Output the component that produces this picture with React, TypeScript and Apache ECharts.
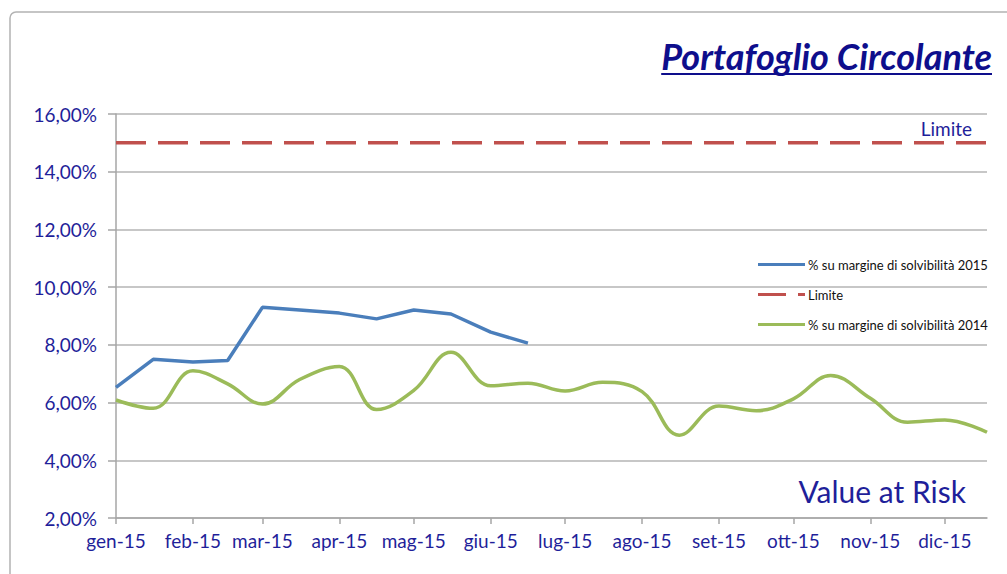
import React, { useEffect, useRef } from "react";
import * as echarts from "echarts";

const dates = [
  "2015-01-01", "2015-01-16", "2015-02-01", "2015-02-15", "2015-03-01", "2015-03-16",
  "2015-04-01", "2015-04-16", "2015-05-01", "2015-05-16", "2015-06-01", "2015-06-16",
  "2015-07-01", "2015-07-16", "2015-08-01", "2015-08-16", "2015-09-01", "2015-09-16",
  "2015-10-01", "2015-10-16", "2015-11-01", "2015-11-16", "2015-12-01", "2015-12-18",
];
const series2015 = [6.53, 7.5, 7.41, 7.46, 9.3, 9.21, 9.1, 8.9, 9.21, 9.07, 8.44, 8.06];
const series2014 = [
  6.09, 5.8, 7.1, 6.65, 5.95, 6.8, 7.25, 5.76, 6.42, 7.74, 6.58, 6.67,
  6.4, 6.7, 6.38, 4.87, 5.88, 5.72, 6.13, 6.94, 6.15, 5.32, 5.4, 4.97,
];
const limitValue = 15;
const monthStarts = [
  "2015-01-01", "2015-02-01", "2015-03-01", "2015-04-01", "2015-05-01", "2015-06-01",
  "2015-07-01", "2015-08-01", "2015-09-01", "2015-10-01", "2015-11-01", "2015-12-01",
];
const monthLabels = [
  "gen-15", "feb-15", "mar-15", "apr-15", "mag-15", "giu-15",
  "lug-15", "ago-15", "set-15", "ott-15", "nov-15", "dic-15",
];
const seriesNames = [
  "% su margine di solvibilità 2015",
  "Limite",
  "% su margine di solvibilità 2014",
];
const titleText = "Portafoglio Circolante";
const subtitleText = "Value at Risk";

const toTs = (s: string) => {
  const [y, m, d] = s.split("-").map(Number);
  return Date.UTC(y, m - 1, d);
};

const FONT = "Lato, 'Liberation Sans', sans-serif";
const LABEL_COLOR = "#1F1F9A";
const TITLE_COLOR = "#0E0E8C";
const BLUE = "#4A7EBB";
const RED = "#C0504D";
const GREEN = "#9BBB59";

const ICON_SOLID = "path://M0,0h47v3h-47z";
const ICON_DASHED = "path://M0,0h28v3h-28zM40,0h7v3h-7z";

export default function App() {
  const ref = useRef<HTMLDivElement>(null);
  useEffect(() => {
    if (!ref.current) return;
    const chart = echarts.init(ref.current, undefined, { renderer: "svg" });

    const cvs = document.createElement("canvas");
    const ctx = cvs.getContext("2d")!;
    ctx.font = "italic bold 36px Lato";
    const titleW = ctx.measureText(titleText).width;
    const titleRight = 992;

    const xs = dates.map(toTs);
    const monthTs = monthStarts.map(toTs);
    const xMin = xs[0];
    const xMax = xs[xs.length - 1];

    chart.setOption({
      animation: false,
      grid: { left: 116, top: 114, width: 871, height: 404, containLabel: false },
      legend: {
        orient: "vertical",
        left: 758,
        top: 258,
        padding: 0,
        itemWidth: 47,
        itemHeight: 3,
        itemGap: 17,
        textStyle: { fontSize: 13, color: "#111", fontFamily: FONT, padding: [0, 0, 0, -2] },
        data: [
          { name: seriesNames[0], icon: ICON_SOLID, itemStyle: { color: BLUE } },
          { name: seriesNames[1], icon: ICON_DASHED, itemStyle: { color: RED } },
          { name: seriesNames[2], icon: ICON_SOLID, itemStyle: { color: GREEN } },
        ],
      },
      xAxis: {
        type: "value",
        min: xMin,
        max: xMax,
        splitLine: { show: false },
        axisLine: { show: true, lineStyle: { color: "#a6a6a6", width: 1.5 } },
        axisTick: {
          show: true,
          length: 6,
          customValues: monthTs,
          lineStyle: { color: "#a6a6a6", width: 1.5 },
        },
        axisLabel: {
          customValues: monthTs,
          margin: 13,
          fontSize: 19,
          color: LABEL_COLOR,
          fontFamily: FONT,
          formatter: (v: number) => {
            const i = monthTs.indexOf(v);
            return i >= 0 ? monthLabels[i] : "";
          },
        },
      },
      yAxis: {
        type: "value",
        min: 2,
        max: 16,
        interval: 2,
        axisLine: { show: true, lineStyle: { color: "#a6a6a6", width: 1.5 } },
        axisTick: { show: true, length: 8, lineStyle: { color: "#a6a6a6", width: 1.5 } },
        splitLine: { show: true, lineStyle: { color: "#b5b5b5", width: 1.5 } },
        axisLabel: {
          margin: 19,
          fontSize: 19,
          color: LABEL_COLOR,
          fontFamily: FONT,
          formatter: (v: number) => v.toFixed(2).replace(".", ",") + "%",
        },
      },
      series: [
        {
          name: seriesNames[0],
          type: "line",
          symbol: "none",
          z: 3,
          lineStyle: { color: BLUE, width: 3.5 },
          itemStyle: { color: BLUE },
          data: series2015.map((v, i) => [xs[i], v]),
        },
        {
          name: seriesNames[1],
          type: "line",
          symbol: "none",
          z: 2,
          lineStyle: { color: RED, width: 3.5, type: [30, 12] },
          itemStyle: { color: RED },
          data: [
            [xMin, limitValue],
            [xMax, limitValue],
          ],
        },
        {
          name: seriesNames[2],
          type: "line",
          symbol: "none",
          smooth: 0.4,
          z: 2,
          lineStyle: { color: GREEN, width: 3.5 },
          itemStyle: { color: GREEN },
          data: series2014.map((v, i) => [xs[i], v]),
        },
      ],
      graphic: [
        {
          type: "rect",
          silent: true,
          shape: { x: 10, y: 12, width: 1200, height: 800, r: 6 },
          style: { fill: "none", stroke: "#b3b3b3", lineWidth: 1.5 },
        },
        {
          type: "text",
          silent: true,
          style: {
            text: titleText,
            x: titleRight,
            y: 56,
            textAlign: "right",
            textVerticalAlign: "middle",
            fontSize: 36,
            fontWeight: "bold",
            fontStyle: "italic",
            fontFamily: FONT,
            fill: TITLE_COLOR,
          },
        },
        {
          type: "line",
          silent: true,
          shape: { x1: titleRight - titleW, y1: 74, x2: titleRight, y2: 74 },
          style: { stroke: TITLE_COLOR, lineWidth: 2 },
        },
        {
          type: "text",
          silent: true,
          style: {
            text: seriesNames[1],
            x: 972,
            y: 128,
            textAlign: "right",
            textVerticalAlign: "middle",
            fontSize: 19,
            fontFamily: FONT,
            fill: LABEL_COLOR,
          },
        },
        {
          type: "text",
          silent: true,
          style: {
            text: subtitleText,
            x: 966,
            y: 491,
            textAlign: "right",
            textVerticalAlign: "middle",
            fontSize: 30,
            fontFamily: FONT,
            fill: LABEL_COLOR,
          },
        },
      ],
    });
    return () => chart.dispose();
  }, []);
  return (
    <div
      ref={ref}
      style={{ position: "fixed", left: 0, top: 0, width: 1007, height: 574, background: "#fff" }}
    />
  );
}
